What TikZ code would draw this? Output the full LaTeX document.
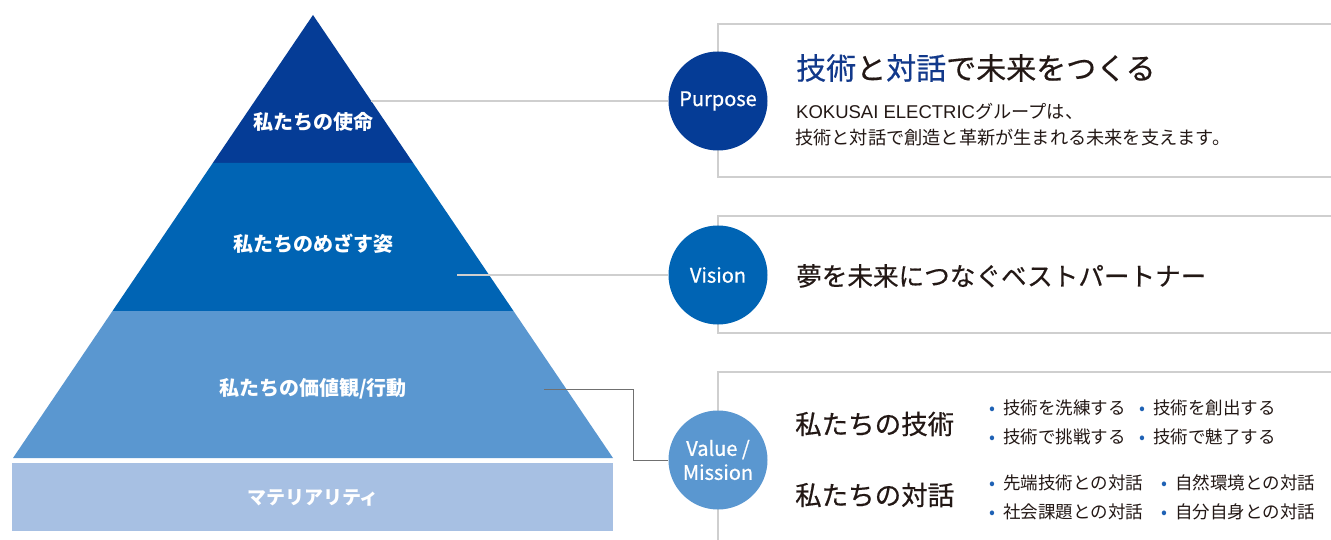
\documentclass[tikz,border=0pt]{standalone}
\usepackage{fontspec}
\setmainfont{Noto Sans CJK JP}
\newfontfamily\jpmed{Noto Sans CJK JP}[FakeBold=0.45]
\newfontfamily\jpsemi{Noto Sans CJK JP}[FakeBold=0.8]
\newfontfamily\latinsans{Liberation Sans}
\newcommand\fsz[1]{\fontsize{#1}{#1}\selectfont}
\newcommand\bul{\llap{\textcolor{bblue}{•}\hspace{7.5pt}}}
\definecolor{cone}{HTML}{053C96}
\definecolor{ctwo}{HTML}{0064B4}
\definecolor{cthree}{HTML}{5A97D0}
\definecolor{cfour}{HTML}{A7C0E3}
\definecolor{txt}{HTML}{231815}
\definecolor{hblue}{HTML}{12398B}
\definecolor{bblue}{HTML}{1F62B5}
\definecolor{boxline}{HTML}{CFCFCF}
\definecolor{darkconn}{HTML}{707070}
\begin{document}
\begin{tikzpicture}[x=1pt,y=-1pt,
  pyrlabel/.style={text=white, font=\fsz{20}\bfseries, inner sep=0pt},
  circ/.style={circle, minimum size=99pt, inner sep=0pt, text=white, font=\jpsemi\fsz{20}, align=center},
  frame/.style={draw=boxline, line width=1.2pt},
  lightconn/.style={draw=boxline, line width=1.2pt},
  darkconn/.style={draw=darkconn, line width=0.9pt},
  rtext/.style={anchor=west, inner sep=0pt, text=txt},
]
\useasboundingbox (0,0) rectangle (1331,540);
\fill[white] (0,0) rectangle (1331,540);

% pyramid
\fill[cone] (313,15) -- (413.2,163) -- (212.8,163) -- cycle;
\fill[ctwo] (212.8,163) -- (413.2,163) -- (513.5,311) -- (112.5,311) -- cycle;
\fill[cthree] (112.5,311) -- (513.5,311) -- (613,458) -- (13,458) -- cycle;
\fill[cfour] (12,463) rectangle (613,531);

\node[pyrlabel] (mission) at (313,122) {私たちの使命};
\node[pyrlabel] (vis) at (313,244) {私たちのめざす姿};
\node[pyrlabel] (val) at (313,389) {私たちの価値観/行動};
\node[pyrlabel, font=\fsz{19}\bfseries] (mat) at (313,498) {マテリアリティ};

% boxes
\draw[frame] (1331,24) -- (718,24) -- (718,177) -- (1331,177);
\draw[frame] (1331,216) -- (718,216) -- (718,333) -- (1331,333);
\draw[frame] (1331,372) -- (718,372) -- (718,540);

% circles
\node[circ, fill=cone] (purpose) at (718,101) {Purpose};
\node[circ, fill=ctwo] (vision) at (718,275) {Vision};
\node[circ, fill=cthree] (value) at (718,460) {Value /\\[4pt]Mission};

% connectors
\coordinate (pstart) at (371,101);
\coordinate (vstart) at (457,275);
\coordinate (mstart) at (544,389);
\coordinate (mbend) at (633,389);
\draw[lightconn] (pstart) -- (purpose.west);
\draw[lightconn] (vstart) -- (vision.west);
\draw[darkconn] (mstart) -- (mbend) |- (value.west);

% purpose text
\node[rtext, font=\jpmed\fsz{30}] (ptitle) at (796,68) {\textcolor{hblue}{技術}と\textcolor{hblue}{対話}で未来をつくる};
\node[rtext, font=\fsz{18.2}] (pbody1) at (796,111) {{\latinsans\fsz{18.5}KOKUSAI ELECTRIC}グループは、};
\node[rtext, font=\fsz{18.2}] (pbody2) at (795,138) {技術と対話で創造と革新が生まれる未来を支えます。};

% vision text
\node[rtext, font=\jpmed\fsz{25.6}] (vtext) at (796,276) {夢を未来につなぐベストパートナー};

% value text
\node[rtext, font=\jpmed\fsz{26.5}] (tech) at (795,424) {私たちの技術};
\node[rtext, font=\jpmed\fsz{26.5}] (dial) at (795,495) {私たちの対話};
\begin{scope}[every node/.style={rtext, font=\fsz{17.5}}]
\node (b1) at (1003,408) {\bul 技術を洗練する};
\node (b2) at (1153,408) {\bul 技術を創出する};
\node (b3) at (1003,437) {\bul 技術で挑戦する};
\node (b4) at (1153,437) {\bul 技術で魅了する};
\node (b5) at (1003,483) {\bul 先端技術との対話};
\node (b6) at (1175,483) {\bul 自然環境との対話};
\node (b7) at (1003,512) {\bul 社会課題との対話};
\node (b8) at (1175,512) {\bul 自分自身との対話};
\end{scope}
\end{tikzpicture}
\end{document}
